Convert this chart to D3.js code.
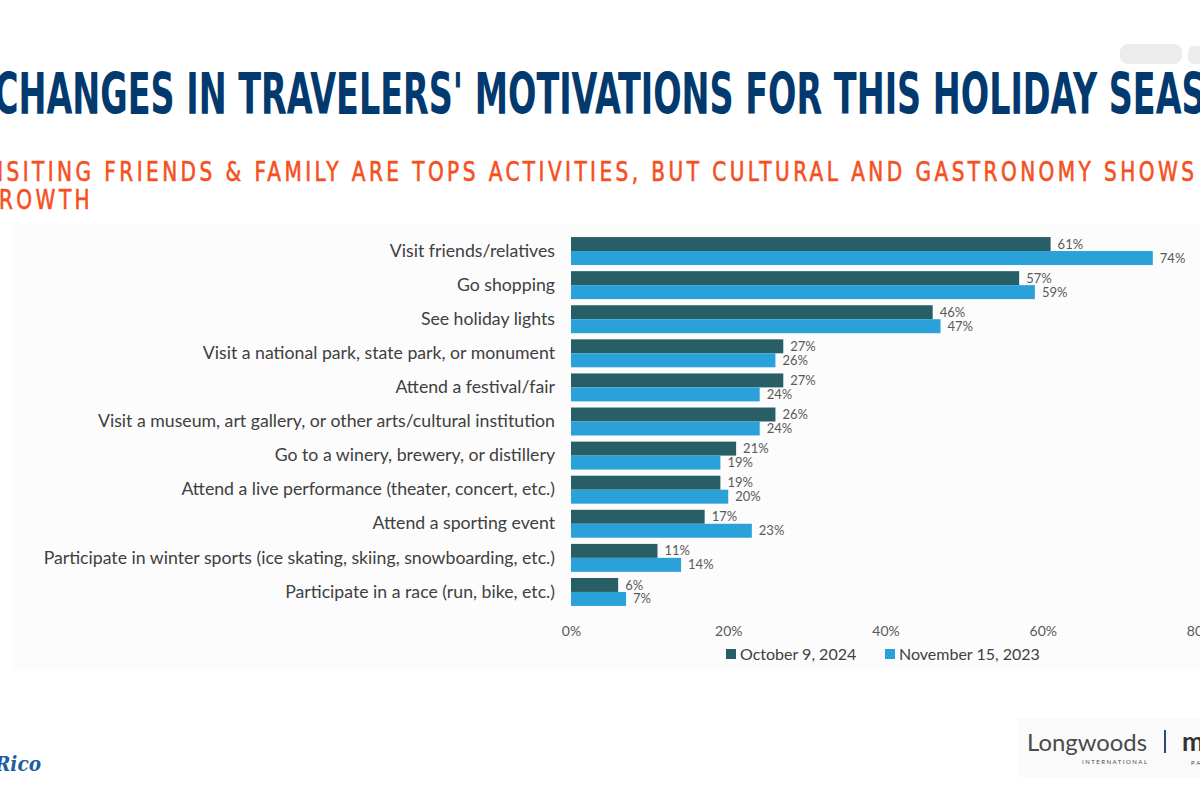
<!DOCTYPE html>
<html>
<head>
<meta charset="utf-8">
<script src="https://cdn.jsdelivr.net/npm/d3@7"></script>
<style>
  html, body { margin: 0; padding: 0; background: #ffffff; }
  svg { display: block; }
</style>
</head>
<body>
<svg id="chart" width="1200" height="800"></svg>
<script>
// ---------- data ----------
const categories = [
  "Visit friends/relatives",
  "Go shopping",
  "See holiday lights",
  "Visit a national park, state park, or monument",
  "Attend a festival/fair",
  "Visit a museum, art gallery, or other arts/cultural institution",
  "Go to a winery, brewery, or distillery",
  "Attend a live performance (theater, concert, etc.)",
  "Attend a sporting event",
  "Participate in winter sports (ice skating, skiing, snowboarding, etc.)",
  "Participate in a race (run, bike, etc.)"
];
const seriesNames = ["October 9, 2024", "November 15, 2023"];
const oct2024 = [61, 57, 46, 27, 27, 26, 21, 19, 17, 11, 6];
const nov2023 = [74, 59, 47, 26, 24, 24, 19, 20, 23, 14, 7];
const tickValues = [0, 20, 40, 60, 80];
const titleText = "CHANGES IN TRAVELERS' MOTIVATIONS FOR THIS HOLIDAY SEASON";
const subtitleLines = ["VISITING FRIENDS & FAMILY ARE TOPS ACTIVITIES, BUT CULTURAL AND GASTRONOMY SHOWS", "GROWTH"];

// ---------- setup ----------
const svg = d3.select("#chart");
const colors = ["#285f66", "#2aa1d9"];
const labelFont = "Lato, 'Open Sans', sans-serif";

// chart panel background
svg.append("rect").attr("x", 13).attr("y", 225).attr("width", 1187).attr("height", 445).attr("fill", "#fcfcfc");

// smudge top-right
svg.append("rect").attr("x", 1120).attr("y", 44).attr("width", 62).attr("height", 20).attr("rx", 8).attr("fill", "#ececec");
svg.append("rect").attr("x", 1188).attr("y", 46).attr("width", 20).attr("height", 18).attr("rx", 6).attr("fill", "#ececec");

// ---------- title ----------
const title = svg.append("text")
  .attr("x", 0).attr("y", 114)
  .attr("fill", "#02396e")
  .style("font-family", "'Liberation Sans Narrow', 'DejaVu Sans Condensed', sans-serif")
  .style("font-weight", "bold")
  .style("font-size", "57px")
  .text(titleText);
{
  const w = title.node().getComputedTextLength();
  const target = 1268;
  title.attr("transform", `translate(-6,0) scale(${target / w},1)`);
}

// ---------- subtitle ----------
const subStyle = sel => sel
  .attr("fill", "#f5511f")
  .attr("stroke", "#f5511f")
  .attr("stroke-width", 0.6)
  .style("font-family", "'Liberation Sans Narrow', 'DejaVu Sans Condensed', sans-serif")
  .style("font-size", "26px")
  .style("letter-spacing", "4px");
const sub1 = svg.append("text")
  .attr("x", 0).attr("y", 181)
  .call(subStyle)
  .text(subtitleLines[0]);
const w1 = sub1.node().getComputedTextLength();
const subScale = 1218 / w1;
sub1.attr("transform", `translate(-20,0) scale(${subScale},1)`);
svg.append("text")
  .attr("x", 0).attr("y", 209)
  .call(subStyle)
  .attr("transform", `translate(-20,0) scale(${subScale},1)`)
  .text(subtitleLines[1]);

// ---------- scales ----------
const x = d3.scaleLinear().domain([0, 80]).range([571, 1200]);
const y = d3.scaleBand().domain(categories).range([234, 609]).paddingInner(0.18).paddingOuter(0.09);
const ySub = d3.scaleBand().domain(seriesNames).range([0, y.bandwidth()]);

const rows = categories.map((c, i) => ({ cat: c, vals: [oct2024[i], nov2023[i]] }));

const g = svg.append("g");
const grp = g.selectAll("g.row").data(rows).join("g")
  .attr("class", "row")
  .attr("transform", d => `translate(0,${y(d.cat)})`);

grp.selectAll("rect").data(d => d.vals.map((v, k) => ({ v, k }))).join("rect")
  .attr("x", x(0))
  .attr("y", d => ySub(seriesNames[d.k]))
  .attr("width", d => x(d.v) - x(0))
  .attr("height", ySub.bandwidth())
  .attr("fill", d => colors[d.k]);

grp.selectAll("text.val").data(d => d.vals.map((v, k) => ({ v, k }))).join("text")
  .attr("class", "val")
  .attr("x", d => x(d.v) + 7)
  .attr("y", d => ySub(seriesNames[d.k]) + ySub.bandwidth() / 2)
  .attr("dy", "0.35em")
  .attr("fill", "#595959")
  .style("font-family", labelFont)
  .style("font-size", "13px")
  .text(d => d.v + "%");

// category labels (y axis)
const yAxis = d3.axisLeft(y).tickSize(0).tickPadding(16);
const yg = svg.append("g").attr("transform", `translate(${x(0)},0)`).call(yAxis);
yg.select(".domain").remove();
yg.selectAll("text")
  .attr("fill", "#404040")
  .style("font-family", labelFont)
  .style("font-size", "15px");
{
  let maxW = 0;
  yg.selectAll("text").each(function () { maxW = Math.max(maxW, this.getComputedTextLength()); });
  const fs = 15 * 512 / maxW;
  yg.selectAll("text").style("font-size", fs + "px");
}

// x axis ticks
const xAxis = d3.axisBottom(x).tickValues(tickValues).tickFormat(d => d + "%").tickSize(0).tickPadding(0);
const xg = svg.append("g").attr("transform", `translate(0,631)`).call(xAxis);
xg.select(".domain").remove();
xg.selectAll("text")
  .attr("dy", "0.35em")
  .attr("fill", "#595959")
  .style("font-family", labelFont)
  .style("font-size", "14px");

// legend
const legend = svg.append("g").attr("transform", "translate(726,654)");
const legX = [0, 159];
seriesNames.forEach((s, k) => {
  const lg = legend.append("g").attr("transform", `translate(${legX[k]},0)`);
  lg.append("rect").attr("x", 0).attr("y", -5).attr("width", 10).attr("height", 10).attr("fill", colors[k]);
  lg.append("text").attr("x", 14).attr("y", 0).attr("dy", "0.35em")
    .attr("fill", "#404040")
    .style("font-family", labelFont).style("font-size", "16px")
    .text(s);
});

// ---------- footer logos ----------
svg.append("text")
  .attr("x", -5).attr("y", 771)
  .attr("fill", "#1e5ea0")
  .style("font-family", "'DejaVu Serif', serif")
  .style("font-style", "italic").style("font-weight", "bold")
  .style("font-size", "20px")
  .attr("textLength", 46).attr("lengthAdjust", "spacingAndGlyphs")
  .text("Rico");

svg.append("rect").attr("x", 1018).attr("y", 718).attr("width", 182).attr("height", 59).attr("fill", "#fafafa");
svg.append("text")
  .attr("x", 1027).attr("y", 751)
  .attr("fill", "#4a4a4a")
  .style("font-family", "Lato, sans-serif")
  .style("font-size", "24px")
  .attr("textLength", 120).attr("lengthAdjust", "spacingAndGlyphs")
  .text("Longwoods");
svg.append("text")
  .attr("x", 1082).attr("y", 764)
  .attr("fill", "#4a4a4a")
  .style("font-family", "Lato, sans-serif")
  .style("font-size", "6px")
  .attr("textLength", 65).attr("lengthAdjust", "spacing")
  .text("INTERNATIONAL");
svg.append("line").attr("x1", 1165).attr("x2", 1165).attr("y1", 730).attr("y2", 753)
  .attr("stroke", "#2a4a7a").attr("stroke-width", 2);
svg.append("text")
  .attr("x", 1182).attr("y", 751)
  .attr("fill", "#333333")
  .style("font-family", "Lato, sans-serif").style("font-weight", "bold")
  .style("font-size", "26px")
  .text("m");
svg.append("text")
  .attr("x", 1191).attr("y", 765)
  .attr("fill", "#4a4a4a")
  .style("font-family", "Lato, sans-serif")
  .style("font-size", "6px")
  .style("letter-spacing", "2px")
  .text("PA");
</script>
</body>
</html>
